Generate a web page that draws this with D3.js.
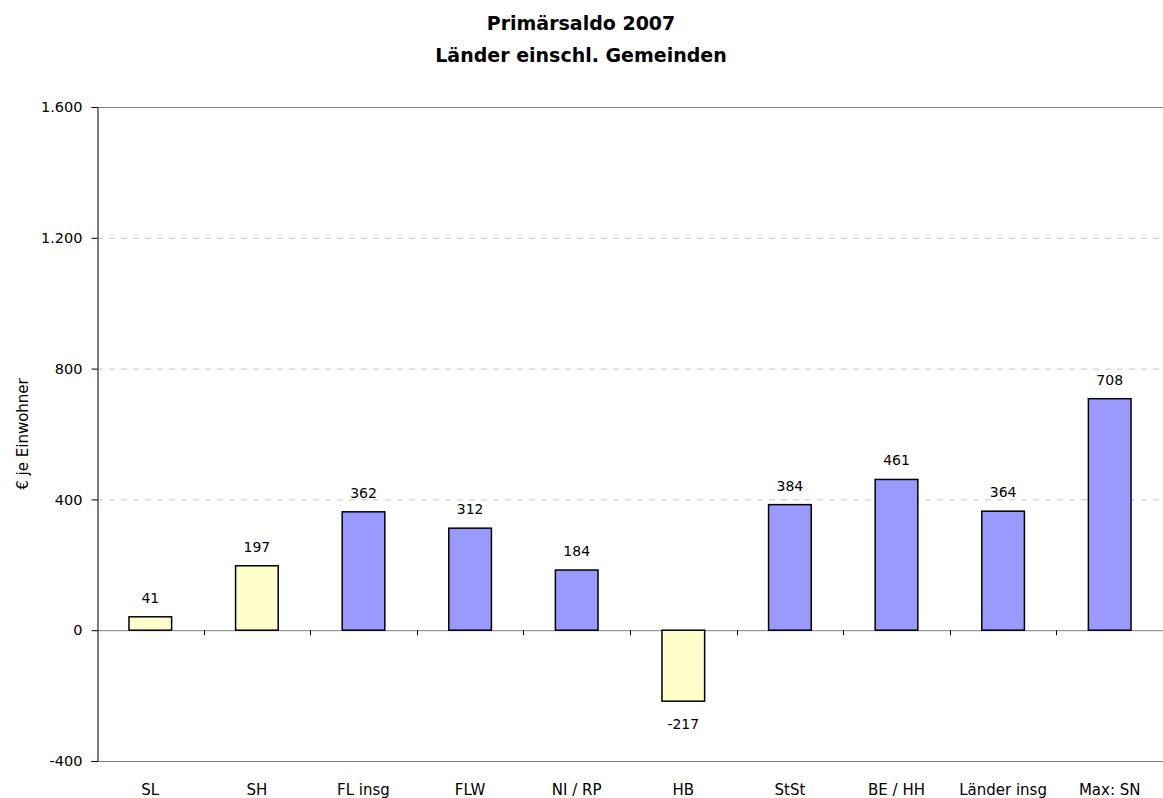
<!DOCTYPE html>
<html>
<head>
    <meta charset="utf-8">
    <title>Primärsaldo 2007</title>
    <script type="text/javascript" src="https://cdn.jsdelivr.net/npm/d3@7"></script>
    <style>
        body { margin: 0; background: #fff; }
        text { font-family: Tahoma, "DejaVu Sans", sans-serif; fill: #000; }
    </style>
</head>
<body>
<script type="text/javascript">
    var categories = ["SL", "SH", "FL insg", "FLW", "NI / RP", "HB", "StSt", "BE / HH", "Länder insg", "Max: SN"];
    var values = [41, 197, 362, 312, 184, -217, 384, 461, 364, 708];
    var groups = ["y", "y", "b", "b", "b", "y", "b", "b", "b", "b"];
    var yTicks = [-400, 0, 400, 800, 1200, 1600];
    var tickLabels = ["-400", "0", "400", "800", "1.200", "1.600"];

    var width = 1163, height = 798;
    var margin = {top: 107, right: 0, bottom: 37, left: 97};

    var svg = d3.select("body").append("svg")
        .attr("width", width)
        .attr("height", height);

    var x = d3.scaleBand()
        .domain(categories)
        .range([margin.left, width - margin.right])
        .paddingInner(0.6)
        .paddingOuter(0.3);

    var y = d3.scaleLinear()
        .domain([-400, 1600])
        .range([height - margin.bottom, margin.top]);

    var colour = {y: "#ffffcc", b: "#9999ff"};

    // grid lines
    svg.append("g").selectAll("line")
        .data(yTicks)
        .enter().append("line")
        .attr("x1", margin.left).attr("x2", width - margin.right)
        .attr("y1", function (d) { return y(d) + 0.5; })
        .attr("y2", function (d) { return y(d) + 0.5; })
        .attr("stroke", function (d) { return (d === 0 || d === 1600 || d === -400) ? "#808080" : "#c8c8c8"; })
        .attr("stroke-dasharray", function (d) { return (d === 0 || d === 1600 || d === -400) ? null : "6,6"; });

    // category ticks at zero line
    var bounds = d3.range(1, categories.length).map(function (i) { return margin.left + i * (width - margin.left - margin.right) / categories.length; });
    svg.append("g").selectAll("line")
        .data(bounds)
        .enter().append("line")
        .attr("x1", function (d) { return Math.round(d) + 0.5; })
        .attr("x2", function (d) { return Math.round(d) + 0.5; })
        .attr("y1", y(0)).attr("y2", y(0) + 5)
        .attr("stroke", "#000");

    // bars
    svg.append("g").selectAll("rect")
        .data(values)
        .enter().append("rect")
        .attr("x", function (d, i) { return x(categories[i]); })
        .attr("y", function (d) { return y(Math.max(0, d)); })
        .attr("width", x.bandwidth())
        .attr("height", function (d) { return Math.abs(y(d) - y(0)); })
        .attr("fill", function (d, i) { return colour[groups[i]]; })
        .attr("stroke", "#000")
        .attr("stroke-width", 1.5);

    // value labels
    svg.append("g").selectAll("text")
        .data(values)
        .enter().append("text")
        .attr("x", function (d, i) { return x(categories[i]) + x.bandwidth() / 2; })
        .attr("y", function (d) { return d >= 0 ? y(d) - 14 : y(d) + 28; })
        .attr("text-anchor", "middle")
        .style("font-size", "14px")
        .text(function (d) { return d; });

    // y axis
    var yAxis = d3.axisLeft(y)
        .tickValues(yTicks)
        .tickSize(6)
        .tickFormat(function (d, i) { return tickLabels[i]; });
    var ga = svg.append("g")
        .attr("transform", "translate(" + (margin.left + 0.5) + ",0)")
        .call(yAxis);
    ga.selectAll("text").style("font-size", "14.5px").attr("x", -15);
    ga.selectAll("line,path").attr("stroke", "#000");

    // category labels
    svg.append("g").selectAll("text")
        .data(categories)
        .enter().append("text")
        .attr("x", function (d) { return x(d) + x.bandwidth() / 2; })
        .attr("y", 795)
        .attr("text-anchor", "middle")
        .style("font-size", "15px")
        .text(function (d) { return d; });

    // y label
    svg.append("text")
        .attr("transform", "translate(28," + ((y(1600) + y(-400)) / 2) + ") rotate(-90)")
        .attr("text-anchor", "middle")
        .style("font-size", "15px")
        .text("€ je Einwohner");

    // title
    svg.append("text")
        .attr("x", 581).attr("y", 30)
        .attr("text-anchor", "middle")
        .style("font-size", "19px").style("font-weight", "bold")
        .text("Primärsaldo 2007");
    svg.append("text")
        .attr("x", 581).attr("y", 62)
        .attr("text-anchor", "middle")
        .style("font-size", "19px").style("font-weight", "bold")
        .text("Länder einschl. Gemeinden");
</script>
</body>
</html>
